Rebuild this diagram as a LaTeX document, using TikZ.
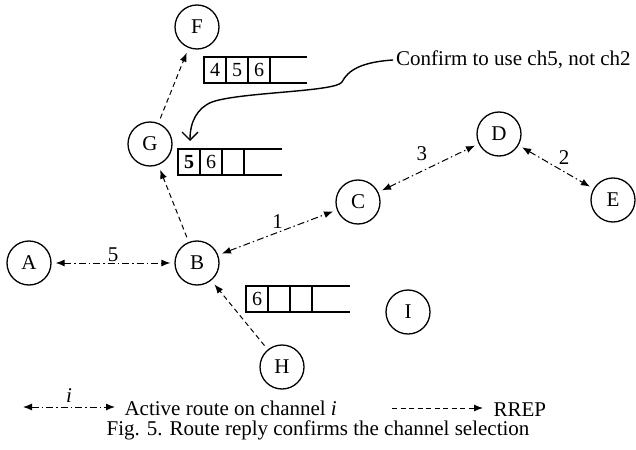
\documentclass[tikz,border=0pt]{standalone}
\usepackage{fontspec}
\setmainfont{Liberation Serif}
\usetikzlibrary{arrows.meta,positioning}

\begin{document}
\begin{tikzpicture}[
    x=1pt, y=-1pt,
    font=\fontsize{21}{24}\selectfont,
    station/.style={draw, circle, line width=1.3pt, minimum size=44pt, inner sep=0pt},
    cell/.style={draw, line width=1.6pt, outer sep=0pt, inner sep=0pt,
                 minimum width=22pt, minimum height=26pt, font=\fontsize{20}{22}\selectfont},
    tail/.style={line width=1.6pt},
    route/.style={line width=1pt, dash pattern=on 7pt off 3pt on 1.5pt off 3pt,
                  {Latex[length=9pt,width=7pt]}-{Latex[length=9pt,width=7pt]},
                  shorten <=4pt, shorten >=4pt},
    rrep/.style={line width=1pt, dash pattern=on 5pt off 3.5pt,
                 -{Latex[length=9pt,width=7pt]}, shorten <=5pt, shorten >=5pt},
    chan/.style={inner sep=1pt}
]
\useasboundingbox (0,0) rectangle (636,449);

\node[station] (F) at (197,27) {F};
\node[station] (G) at (150,144) {G};
\node[station] (D) at (499,134) {D};
\node[station] (C) at (358,202) {C};
\node[station] (E) at (613,200) {E};
\node[station] (A) at (29,263) {A};
\node[station] (B) at (197,263) {B};
\node[station] (I) at (408,312) {I};
\node[station] (H) at (282,367) {H};

\node[cell, anchor=north west] (qf1) at (204,57) {4};
\node[cell, right=0pt of qf1] (qf2) {5};
\node[cell, right=0pt of qf2] (qf3) {6};
\draw[tail] (qf3.north east) -- ++(37,0) (qf3.south east) -- ++(37,0);

\node[cell, anchor=north west] (qg1) at (178,149) {\textbf{5}};
\node[cell, right=0pt of qg1] (qg2) {6};
\node[cell, right=0pt of qg2] (qg3) {};
\draw[tail] (qg3.north east) -- ++(38,0) (qg3.south east) -- ++(38,0);

\node[cell, anchor=north west] (qb1) at (246,286) {6};
\node[cell, right=0pt of qb1] (qb2) {};
\node[cell, right=0pt of qb2] (qb3) {};
\draw[tail] (qb3.north east) -- ++(38,0) (qb3.south east) -- ++(38,0);

\node[anchor=west, inner sep=3pt] (note)
    at (393,60) {Confirm to use ch5, not ch2};
\draw[line width=1.4pt, -{Straight Barb[length=8pt,width=16pt]}]
    (note.west) .. controls (362,62) and (348,70) .. (342,82)
    .. controls (336,92) and (240,92) .. (212,102)
    .. controls (197,108) and (190,122) .. (190,141);

\draw[route] (A) -- node[chan, above] (lab5) {5} (B);
\draw[route] (B) -- node[chan, above=3pt] (lab1) {1} (C);
\draw[route] (C) -- node[chan, above left=6pt and 0pt] (lab3) {3} (D);
\draw[route] (D) -- node[chan, above right=2pt] (lab2) {2} (E);

\draw[rrep] (B) -- (G);
\draw[rrep] (G) -- (F);
\draw[rrep] (H) -- (B);

\coordinate (kl) at (23,407);
\coordinate (kr) at (115,407);
\draw[route, shorten <=0pt, shorten >=0pt] (kl) -- node[chan, above=3pt] (labi) {\textit{i}} (kr);
\node[anchor=west] (keyroute) at (121,408) {Active route on channel \textit{i}};

\coordinate (rl) at (392,408);
\coordinate (rr) at (483,408);
\draw[rrep, shorten <=0pt, shorten >=0pt] (rl) -- (rr);
\node[anchor=west] (keyrrep) at (490,410) {RREP};

\node (caption) at (318,430) {Fig. 5. Route reply confirms the channel selection};

\end{tikzpicture}
\end{document}
